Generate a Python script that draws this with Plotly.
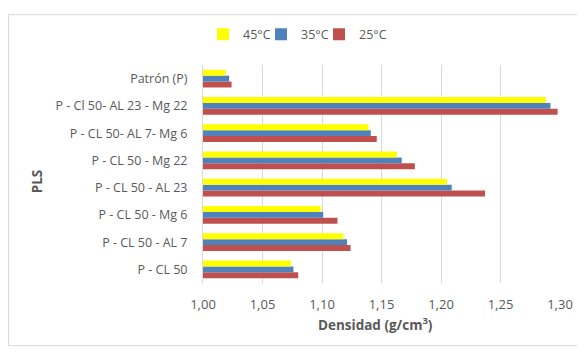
import plotly.graph_objects as go

categories = ["P - CL 50", "P - CL 50 - AL 7", "P - CL 50 - Mg 6", "P - CL 50 - AL 23",
              "P - CL 50 - Mg 22", "P - CL 50- AL 7- Mg 6", "P - Cl 50- AL 23 - Mg 22", "Patrón (P)"]
t25 = [1.080, 1.124, 1.113, 1.237, 1.178, 1.146, 1.298, 1.024]
t35 = [1.076, 1.121, 1.101, 1.209, 1.167, 1.141, 1.292, 1.022]
t45 = [1.074, 1.118, 1.099, 1.205, 1.163, 1.139, 1.288, 1.019]
series_names = ["25°C", "35°C", "45°C"]
colors = ["#C0504D", "#4F81BD", "#FFFF00"]
xticks = [1.00, 1.05, 1.10, 1.15, 1.20, 1.25, 1.30]
xticklabels = ["1,00", "1,05", "1,10", "1,15", "1,20", "1,25", "1,30"]

# page body has an 8px default margin: the figure is sized to fit the window
OFF = 8
W, H = 585 - OFF, 352 - OFF
L, R, T, B = 203 - OFF, 585 - 560, 60 - OFF, 352 - 283
pw, ph = W - L - R, H - T - B


def px(page_x):
    return (page_x - OFF - L) / pw


def py(page_y):
    return 1 - (page_y - OFF - T) / ph


legend_names = ["legend3", "legend2", "legend"]
legend_left = {"legend": 203, "legend2": 261, "legend3": 319}

fig = go.Figure()
for name, vals, c, lg in zip(series_names, [t25, t35, t45], colors, legend_names):
    fig.add_trace(go.Bar(
        y=categories, x=[v - 1.0 for v in vals], base=1.0, name=name, orientation="h",
        marker=dict(color=c, line=dict(width=0)), legend=lg,
    ))

font_family = "Open Sans, Liberation Sans, sans-serif"
legend_style = dict(orientation="h", xanchor="left", yanchor="middle", y=py(29),
                    font=dict(size=12.5, color="#595959"), itemwidth=30,
                    bgcolor="rgba(0,0,0,0)", borderwidth=0)

fig.update_layout(
    width=W, height=H,
    margin=dict(l=L, r=R, t=T, b=B, pad=0),
    paper_bgcolor="white", plot_bgcolor="white",
    barmode="group", bargap=0.35, bargroupgap=0,
    font=dict(family=font_family, color="#595959", size=12.5),
    legend=dict(x=px(legend_left["legend"]), **legend_style),
    legend2=dict(x=px(legend_left["legend2"]), **legend_style),
    legend3=dict(x=px(legend_left["legend3"]), **legend_style),
    xaxis=dict(range=[1.0, 1.30], tickvals=xticks, ticktext=xticklabels,
               showgrid=True, gridcolor="#D9D9D9", gridwidth=1, zeroline=False,
               showline=False, ticks="", ticklabelstandoff=12,
               tickfont=dict(size=13, color="#595959")),
    yaxis=dict(type="category", categoryorder="array", categoryarray=categories,
               showgrid=False, showline=True, linecolor="#D9D9D9", linewidth=1,
               ticks="", ticklabelstandoff=12, tickfont=dict(size=12.5, color="#595959")),
    showlegend=True,
    annotations=[
        dict(text="<b>Densidad (g/cm<sup>3</sup>)</b>", xref="paper", yref="paper",
             x=px(375), y=py(325), xanchor="center", yanchor="middle",
             showarrow=False, font=dict(size=13.5, color="#595959")),
        dict(text="<b>PLS</b>", xref="paper", yref="paper", textangle=-90,
             x=px(37), y=py(179), xanchor="center", yanchor="middle",
             showarrow=False, font=dict(size=13.5, color="#595959")),
    ],
    shapes=[dict(type="rect", xref="paper", yref="paper",
                 x0=px(8.5), x1=px(580), y0=py(347), y1=py(8.5),
                 line=dict(color="#D9D9D9", width=1), fillcolor="rgba(0,0,0,0)", layer="below")],
)
fig.write_html("out.html")
